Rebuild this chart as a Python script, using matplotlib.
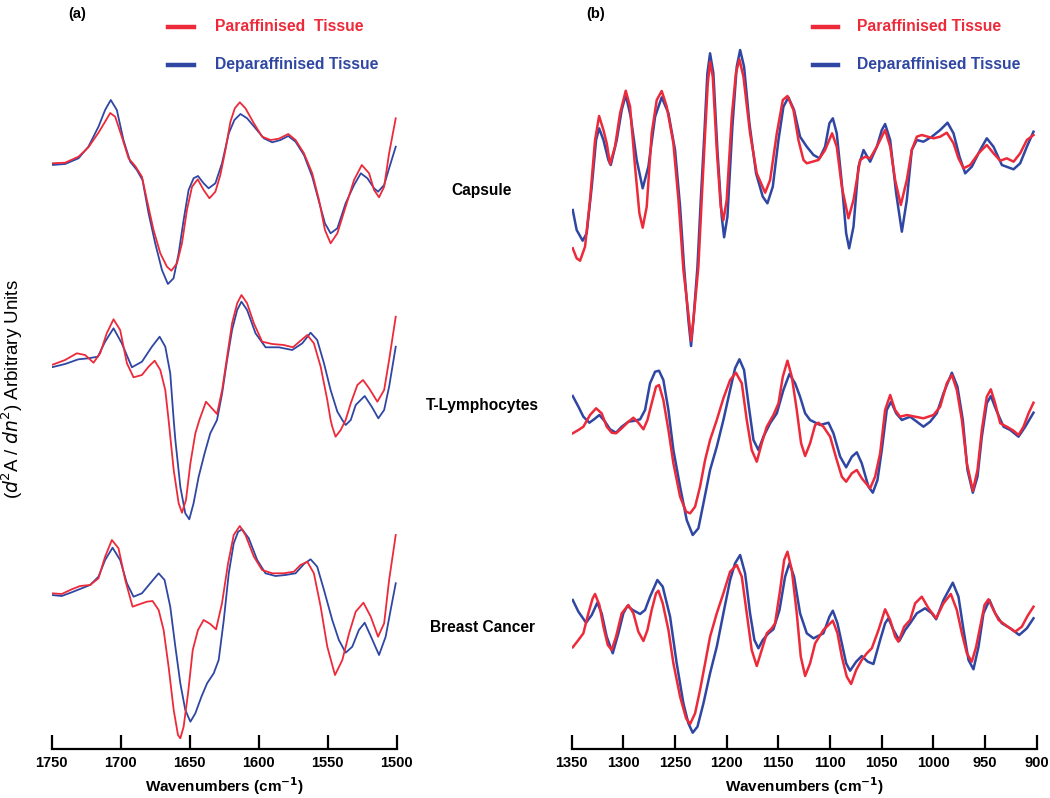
import matplotlib
matplotlib.use("Agg")
import matplotlib.pyplot as plt
from matplotlib.lines import Line2D

plt.rcParams["font.family"] = ["Liberation Sans", "DejaVu Sans"]

RED = "#EC2A3A"
BLUE = "#2F47A2"

# vertical offsets of the three stacked spectra (arbitrary units)
OFFSET = {"Capsule": 584, "T-Lymphocytes": 379, "Breast Cancer": 154}

# ---------------------------------------------------------------- panel (a) 1750-1500
cap_a_red_wn = [1750, 1740.3, 1730.6, 1723.4, 1716.1, 1711.3, 1707.6, 1704, 1699.2, 1694.3, 1689.5,
                1684.6, 1681, 1676.2, 1671.3, 1666.5, 1663.3, 1659.2, 1655.6, 1652, 1648.3, 1644.2,
                1639.9, 1635.7, 1631.4, 1627.8, 1624.1, 1620.5, 1617.3, 1613.7, 1609.6, 1603.5,
                1597.5, 1591.4, 1585.4, 1578.6, 1573.3, 1567.2, 1561.2, 1556.3, 1552, 1547.9, 1543,
                1537, 1530.9, 1525.3, 1520, 1516.4, 1512.8, 1509.1, 1505.5, 1500.7]
cap_a_red = [1.7, 2.3, 8.3, 17.7, 32.3, 43.3, 52, 48.3, 28.3, 6.7, -1,
             -11.7, -35, -65, -88.3, -101.7, -105.7, -98.3, -78.3, -45, -21.7, -14.3,
             -25, -33.3, -26.7, -10, 15, 43.3, 56.7, 62.7, 56.7, 41.7,
             28.3, 25, 26.3, 31, 25, 11.7, -8.3, -35, -65, -78.3, -68.3,
             -41.7, -15, 0, -8.3, -25, -32.3, -21.7, 11.7, 46.7]
cap_a_blue_wn = [1750, 1740.3, 1730.6, 1723.4, 1716.1, 1711.3, 1707.2, 1702.8, 1698, 1693.1, 1688.3,
                 1684.2, 1679.8, 1675, 1670.1, 1665.8, 1661.7, 1658, 1654.4, 1650.8, 1647.2, 1644,
                 1639.9, 1636.3, 1631.4, 1626.6, 1621.7, 1617.6, 1613.2, 1608.4, 1602.3, 1596.3,
                 1590.2, 1584.2, 1578.6, 1573.3, 1567.2, 1561.2, 1556.3, 1552, 1547.9, 1543, 1537,
                 1530.9, 1526, 1521.2, 1516.4, 1513.5, 1509.1, 1505.5, 1500.7]
cap_a_blue = [0, 1, 6.7, 18.3, 38.3, 55, 65, 55, 25, 3.3, -5,
              -15, -48.3, -78.3, -105, -119, -113.3, -88.3, -55, -25, -13.3, -11,
              -18.3, -23.3, -18.3, 1.7, 31.7, 45, 51, 46.7, 36.7, 26.7,
              22.7, 25, 29, 23.3, 10, -11.7, -36.7, -58.3, -68.3, -63.3, -38.3,
              -20, -8.3, -13.3, -23.3, -26.7, -20, -3.3, 18.3]

tl_a_red_wn = [1750, 1740.3, 1731.8, 1725.8, 1719.7, 1714.9, 1710.1, 1705.2, 1700.4, 1695.5, 1690.7,
               1684.6, 1679.8, 1675.4, 1671.3, 1667.7, 1665.3, 1661.6, 1658, 1655.6, 1652.7, 1649.5,
               1645.9, 1643, 1638.2, 1630.2, 1626.5, 1622.9, 1619.3, 1615.6, 1612.5, 1608.4, 1603.5,
               1597.5, 1590.2, 1581.8, 1575.2, 1569.7, 1564.8, 1560, 1555.1, 1550.3, 1547.9, 1546.7,
               1544.3, 1540.6, 1537, 1533.3, 1528.5, 1524.4, 1520, 1514, 1509.1, 1505.5, 1500.7]
tl_a_red = [5, 10, 16.7, 15, 7.3, 16.7, 36.7, 50.7, 40, 6.7, -7.3,
            -5, 3.3, 9.3, 0, -20, -50, -100, -133.3, -142.7, -130, -93.3,
            -63.3, -50, -31.7, -44, -20, 13.3, 46.7, 66.7, 75, 66.7, 46.7,
            28.3, 26, 25, 22.7, 29.3, 35, 26.7, 3.3, -30, -50, -56.7,
            -66.7, -60, -50, -33.3, -15, -10, -18.3, -31.7, -20, 10, 53.3]
tl_a_blue_wn = [1750, 1740.3, 1730.6, 1723.4, 1716.6, 1711.3, 1705.2, 1699.2, 1691.9, 1684.6, 1677.4,
                1671.8, 1667.7, 1664.1, 1661.6, 1660.4, 1656.8, 1653.2, 1650.3, 1647.2, 1643.5, 1639.2,
                1635.1, 1630.2, 1626.5, 1622.9, 1619.3, 1615.6, 1612.5, 1608.4, 1602.3, 1595, 1585.4,
                1575.7, 1568.4, 1562.4, 1557.6, 1552.7, 1547.9, 1543, 1539.4, 1537, 1533.3, 1529.7,
                1523.2, 1518.1, 1513.3, 1509.1, 1505.5, 1500.7]
tl_a_blue = [2.7, 6, 10.7, 11.7, 13.3, 28.3, 41.7, 26.7, 2.7, 8.3, 23.3,
             33.3, 23.3, -3.3, -50, -70, -116.7, -143.3, -149.3, -133.3, -106.7, -83.3,
             -63.3, -50, -23.3, 10, 40, 60, 68.3, 60, 36.7, 22.7, 22.7,
             20, 26.7, 37.3, 30, 6.7, -20, -41.7, -50, -55, -50, -35,
             -26, -36.7, -48.3, -40, -16.7, 23.3]

bc_a_red_wn = [1750, 1742.7, 1735.5, 1729.4, 1722.2, 1716.1, 1711.3, 1706.4, 1701.6, 1696.7, 1691.4,
               1685.9, 1681, 1676.9, 1672.5, 1668.9, 1665.3, 1661.6, 1658.5, 1656.8, 1654.4, 1651.2,
               1647.8, 1644, 1639.9, 1635.1, 1630.9, 1626.6, 1622.2, 1618.1, 1613.7, 1609.6, 1603.5,
               1597.5, 1590.2, 1581.8, 1574.5, 1569.7, 1564.8, 1560, 1555.1, 1550.3, 1544.7, 1539.4,
               1534.5, 1529.7, 1524.1, 1518.8, 1513.5, 1509.1, 1505.5, 1500.7]
bc_a_red = [1.7, 1, 5.7, 9, 10, 16.7, 38.3, 55, 46.7, 15, -11.7,
            -9, -6.7, -6, -15, -35, -71.7, -115, -140, -143.3, -131.7, -98.3,
            -55, -35, -25, -29, -34.3, -8.3, 31.7, 60, 69, 60, 38.3,
            25, 21.7, 21.7, 23.3, 30, 33.3, 21.7, -11.7, -51.7, -80, -65,
            -38.3, -16.7, -7.7, -21.7, -41.7, -28.3, 15, 60]
bc_a_blue_wn = [1750, 1742.7, 1735.5, 1728.2, 1722.2, 1716.1, 1711.3, 1705.9, 1700.4, 1695.5, 1690.7,
                1684.6, 1678.6, 1672.5, 1668.2, 1664.1, 1660.4, 1656.8, 1653.2, 1649.5, 1645.9, 1641.5,
                1637.4, 1632.6, 1629, 1625.3, 1621.7, 1618.1, 1614.9, 1612, 1607.2, 1601.1, 1595.1,
                1587.8, 1580.6, 1573.3, 1567.2, 1562.4, 1557.6, 1552.7, 1546.7, 1541.9, 1537, 1532.2,
                1527.4, 1523.2, 1518.1, 1512.8, 1508, 1504.4, 1500.7]
bc_a_blue = [0, -1, 2.7, 6.7, 10, 18.3, 35, 47.3, 35, 11.7, -1.7,
             1.7, 11.7, 21.7, 15, -11.7, -51.7, -88.3, -115, -126.7, -118.3, -101.7,
             -88.3, -78.3, -65, -25, 21.7, 51.7, 63.3, 65.7, 56.7, 35, 21.7,
             19, 20, 21.7, 31, 35.7, 28.3, 5, -25, -45, -57.7, -51.7,
             -35, -27.7, -43.3, -60, -41.7, -15, 11.7]

# ---------------------------------------------------------------- panel (b) 1350-900
cap_b_red_wn = [1349.0, 1345.2, 1341.9, 1337.1, 1332.3, 1327.4, 1323.5, 1319.3, 1316.1, 1312.9,
                1308.1, 1303.2, 1297.7, 1293.5, 1288.7, 1284.5, 1281.3, 1277.4, 1272.6, 1267.7,
                1262.9, 1258.0, 1251.6, 1246.7, 1241.9, 1236.4, 1234.5, 1232.2, 1227.4, 1224.2,
                1220.9, 1218.3, 1216.1, 1213.5, 1209.6, 1205.8, 1203.2, 1200.0, 1195.1, 1191.1,
                1187.7, 1183.8, 1177.4, 1170.9, 1162.8, 1158.0, 1151.5, 1145.7, 1141.2, 1135.4,
                1130.6, 1125.7, 1122.5, 1111.2, 1104.8, 1098.0, 1093.5, 1088.6, 1082.2, 1077.3,
                1070.9, 1066.0, 1061.2, 1054.7, 1046.7, 1041.8, 1037.0, 1031.5, 1025.7, 1020.9,
                1016.0, 1011.2, 999.9, 993.4, 987.0, 980.5, 975.7, 970.8, 964.4, 956.3,
                948.3, 941.8, 935.3, 928.9, 922.4, 916.0, 909.5, 903.1]
cap_b_red = [-83.3, -93.3, -95.7, -81.7, -35, 25, 49, 35, 21.7, 1,
             18.3, 51.7, 74.3, 58.3, -1.7, -48.3, -62.7, -41.7, 31.7, 65,
             74, 58.3, 21.7, -35, -105, -155, -175.7, -155, -101.7, -35,
             31.7, 81.7, 103.3, 88.3, 15, -41.7, -55, -35, 48.3, 91.7,
             105.7, 88.3, 31.7, -8.3, -27.7, -15, 31.7, 65, 69, 55,
             25, 5, 1.7, 5, 15, 31.7, 18.3, -21.7, -53.3, -35,
             5, 8.3, 6.7, 18.3, 35, 18.3, -15, -40, -15, 15,
             28.3, 30, 26.7, 28.3, 32.3, 21.7, 6.7, -3.3, 0, 11.7,
             20, 11.7, 4.3, 6.7, 3.3, 11.7, 25, 30]
cap_b_blue_wn = [1349.0, 1345.2, 1339.4, 1335.5, 1330.6, 1326.4, 1323.5, 1319.3, 1314.5, 1312.2,
                 1306.4, 1301.6, 1297.7, 1292.9, 1287.1, 1281.3, 1275.8, 1269.3, 1262.9, 1256.4,
                 1250.0, 1245.1, 1241.3, 1237.1, 1234.5, 1232.2, 1228.3, 1225.1, 1221.6, 1218.7,
                 1216.1, 1212.9, 1209.0, 1204.8, 1202.5, 1199.3, 1194.5, 1190.3, 1187.0, 1183.2,
                 1178.0, 1171.6, 1165.1, 1160.6, 1155.4, 1149.9, 1145.1, 1140.3, 1134.8, 1129.0,
                 1122.5, 1116.0, 1110.2, 1104.8, 1100.6, 1097.3, 1093.5, 1088.6, 1084.4, 1081.5,
                 1077.3, 1072.5, 1067.6, 1061.2, 1054.7, 1049.9, 1046.7, 1041.8, 1036.0, 1030.5,
                 1025.7, 1020.9, 1016.0, 1009.6, 1001.5, 993.4, 986.3, 980.5, 974.7, 969.2,
                 962.8, 954.7, 948.3, 941.8, 933.7, 922.4, 916.0, 909.5, 903.1]
cap_b_blue = [-45, -65, -75.7, -68.3, -21.7, 25, 36.7, 25, 5, 0,
              25, 55, 70, 48.3, 5, -23.3, -1.7, 48.3, 67.7, 51.7,
              15, -41.7, -101.7, -155, -181, -155, -101.7, -35, 31.7, 91.7,
              111.7, 91.7, 15, -51.7, -72.3, -51.7, 38.3, 98.3, 115, 98.3,
              41.7, -8.3, -31.7, -38.3, -21.7, 25, 58.3, 67.7, 55, 28.3,
              18.3, 10, 6.7, 18.3, 41.7, 46.7, 31.7, -18.3, -68.3, -83.3,
              -61.7, -1.7, 15, 3.3, 18.3, 35, 41, 25, -28.3, -66.7,
              -35, 15, 25, 23.3, 28.3, 35, 42.3, 31.7, 8.3, -8.3,
              -1.7, 15, 26.7, 18.3, 0, -4.3, 1.7, 18.3, 33.3]

tl_b_red_wn = [1349.0, 1343.5, 1338.7, 1332.3, 1326.4, 1321.0, 1316.1, 1311.3, 1307.1, 1301.6,
               1295.1, 1290.3, 1285.5, 1280.6, 1276.7, 1272.6, 1268.4, 1265.5, 1261.3, 1256.4,
               1251.6, 1245.1, 1239.3, 1235.4, 1230.6, 1225.8, 1220.9, 1216.1, 1209.6, 1203.2,
               1196.7, 1191.1, 1185.4, 1180.6, 1175.8, 1170.9, 1166.1, 1161.2, 1154.8, 1149.9,
               1145.7, 1141.2, 1137.0, 1132.2, 1128.0, 1124.1, 1119.3, 1114.4, 1111.2, 1106.4,
               1099.9, 1093.5, 1088.6, 1084.4, 1078.9, 1074.1, 1069.3, 1061.2, 1056.4, 1051.5,
               1046.7, 1041.8, 1037.0, 1032.2, 1025.7, 1017.6, 1009.6, 999.9, 993.4, 987.0,
               982.1, 977.3, 972.4, 967.6, 961.8, 957.3, 953.1, 948.3, 944.4, 940.2,
               935.3, 928.9, 922.4, 917.6, 912.8, 907.9, 903.1]
tl_b_red = [-63.3, -60, -56.7, -45, -38.3, -43.3, -56.7, -62.7, -63.3, -58.3,
            -51.7, -47.7, -52.7, -59.3, -50, -33.3, -16.7, -15, -30, -60,
            -93.3, -126.7, -141.7, -143.3, -136.7, -116.7, -90, -70, -50, -28.3,
            -10, -2.7, -13.3, -50, -80, -91.7, -73.3, -56.7, -45, -33.3,
            -6.7, 9.3, -6.7, -40, -73.3, -86, -73.3, -55, -52.7, -56.7,
            -66.7, -90, -106.7, -111.7, -103.3, -100, -108.3, -118.3, -106.7, -83.3,
            -40, -25, -40, -46.7, -45, -46.7, -48.3, -45, -36.7, -13.3,
            -5, -20, -50, -93.3, -120.7, -100, -60, -26.7, -19.3, -33.3,
            -53.3, -56.7, -60.7, -65, -56.7, -43.3, -32.7]
tl_b_blue_wn = [1349.0, 1343.5, 1338.7, 1332.9, 1328.4, 1323.2, 1317.7, 1312.9, 1307.1, 1301.6,
                1295.1, 1288.7, 1283.8, 1279.0, 1274.2, 1269.3, 1265.5, 1261.3, 1256.4, 1251.6,
                1245.1, 1238.7, 1232.9, 1227.4, 1222.5, 1216.1, 1209.6, 1203.2, 1196.7, 1191.9,
                1187.7, 1183.2, 1179.0, 1174.1, 1169.3, 1164.5, 1158.0, 1151.5, 1145.1, 1139.3,
                1133.8, 1129.0, 1124.1, 1119.3, 1109.6, 1101.5, 1096.7, 1090.2, 1084.4, 1078.9,
                1074.1, 1069.3, 1062.8, 1058.6, 1054.1, 1049.9, 1045.1, 1040.9, 1036.0, 1030.5,
                1022.5, 1016.0, 1009.6, 1003.1, 996.7, 990.2, 982.1, 976.7, 971.5, 967.0,
                961.8, 957.3, 953.1, 948.3, 944.4, 939.2, 932.1, 925.6, 917.6, 911.1,
                903.1]
tl_b_blue = [-26, -36.7, -46.7, -52.7, -49.3, -45, -51.7, -59.3, -62.7, -56.7,
             -51.7, -50.7, -49.3, -40, -13.3, -1.7, -0.7, -10, -40, -80,
             -116.7, -150, -165, -158.3, -133.3, -100, -76.7, -50, -20, 1.7,
             10.7, 0, -33.3, -70, -80, -66.7, -53.3, -43.3, -20, -4,
             -13.3, -26.7, -43.3, -50, -55, -52.7, -63.3, -86.7, -97.3, -86.7,
             -82.3, -93.3, -116.7, -122.7, -110, -80, -40, -31.7, -43.3, -50,
             -46.7, -51.7, -56.7, -51.7, -43.3, -23.3, -2.7, -16.7, -50, -100,
             -122.7, -106.7, -66.7, -33.3, -26, -40, -56.7, -60, -66.7, -56.7,
             -42.7]

bc_b_red_wn = [1349.0, 1343.5, 1338.7, 1333.9, 1329.7, 1327.4, 1323.2, 1319.3, 1315.1, 1311.3,
               1307.1, 1301.6, 1295.1, 1290.3, 1285.5, 1280.6, 1276.7, 1272.6, 1268.4, 1266.1,
               1261.9, 1256.4, 1251.6, 1245.1, 1239.3, 1235.4, 1230.6, 1225.8, 1220.9, 1216.1,
               1209.6, 1203.2, 1196.7, 1190.3, 1185.4, 1180.6, 1175.8, 1170.9, 1166.1, 1161.2,
               1156.4, 1153.2, 1148.3, 1144.4, 1141.2, 1137.0, 1132.2, 1128.3, 1124.1, 1119.3,
               1114.4, 1106.4, 1101.5, 1097.3, 1092.8, 1088.6, 1083.8, 1079.6, 1074.7, 1069.3,
               1064.4, 1059.6, 1053.1, 1046.7, 1041.8, 1037.0, 1033.8, 1028.3, 1022.5, 1017.6,
               1011.2, 1004.7, 997.3, 990.2, 983.1, 977.3, 972.4, 967.6, 962.8, 958.6,
               954.7, 950.5, 946.7, 941.8, 936.9, 928.9, 920.8, 914.4, 908.9, 903.1]
bc_b_red = [-52.3, -45, -38.3, -18.3, -3.3, 1, -10, -31.7, -50, -55,
            -41.7, -18.3, -10, -18.3, -36.7, -46, -35, -15, 1.7, 4.3,
            -8.3, -35, -68.3, -101.7, -123.3, -129, -118.3, -95, -68.3, -41.7,
            -18.3, 1.7, 23.3, 30, 18.3, -18.3, -55, -71, -55, -38.3,
            -33.3, -28.3, 5, 35, 43.3, 25, -18.3, -61.7, -81, -68.3,
            -48.3, -35, -30, -25.7, -38.3, -61.7, -81.7, -89, -75, -65,
            -58.3, -53.3, -35, -14.3, -25, -41.7, -46.7, -31.7, -25, -8.3,
            -1.7, -13.3, -23.3, -8.3, 1, -15, -38.3, -58.3, -66.7, -51.7,
            -31.7, -10, -4.3, -15, -25, -31, -36.7, -31.7, -21, -11.7]
bc_b_blue_wn = [1349.0, 1343.5, 1336.1, 1330.6, 1325.2, 1321.0, 1316.1, 1310.3, 1304.8, 1300.0,
                1296.1, 1290.9, 1283.8, 1279.0, 1274.2, 1267.1, 1261.9, 1254.8, 1248.4, 1241.9,
                1237.1, 1232.9, 1228.3, 1222.5, 1216.1, 1209.6, 1203.2, 1196.7, 1191.9, 1187.0,
                1182.2, 1177.4, 1173.2, 1169.3, 1165.1, 1159.6, 1154.8, 1148.9, 1143.5, 1139.3,
                1134.8, 1129.0, 1122.5, 1116.0, 1106.4, 1100.6, 1097.3, 1092.8, 1088.6, 1084.4,
                1080.6, 1074.7, 1069.3, 1063.5, 1058.0, 1051.5, 1046.7, 1043.5, 1038.6, 1032.8,
                1027.3, 1022.5, 1016.0, 1008.0, 1001.5, 997.3, 990.2, 981.2, 975.7, 970.8,
                966.0, 961.2, 956.3, 951.5, 945.7, 940.2, 933.7, 925.6, 916.9, 909.5,
                903.1]
bc_b_blue = [-5, -16.7, -27.7, -20, -7.7, -18.3, -41.7, -58.3, -38.3, -18.3,
             -11, -15, -19, -15, -1.7, 15, 8.3, -21.7, -68.3, -108.3,
             -128.3, -137.7, -131.7, -108.3, -78.3, -51.7, -18.3, 15, 31.7, 40,
             21.7, -18.3, -45, -53.3, -45, -38.3, -34.3, -15, 18.3, 31.7,
             18.3, -18.3, -38.3, -43.3, -38.3, -21.7, -15.7, -28.3, -48.3, -68.3,
             -75.7, -66.7, -61, -66.7, -69, -45, -28.3, -23.3, -35, -45.7,
             -35, -28.3, -18.3, -13.3, -18.3, -24.3, -5, 12.3, -1.7, -35,
             -65, -74.3, -51.7, -18.3, -5, -18.3, -28.3, -33.3, -40, -33.3,
             -23.3]

PANELS = {
    "a": {"xlim": (1750, 1500), "ticks": [1750, 1700, 1650, 1600, 1550, 1500],
          "Capsule": (cap_a_red_wn, cap_a_red, cap_a_blue_wn, cap_a_blue),
          "T-Lymphocytes": (tl_a_red_wn, tl_a_red, tl_a_blue_wn, tl_a_blue),
          "Breast Cancer": (bc_a_red_wn, bc_a_red, bc_a_blue_wn, bc_a_blue)},
    "b": {"xlim": (1350, 900), "ticks": list(range(1350, 899, -50)),
          "Capsule": (cap_b_red_wn, cap_b_red, cap_b_blue_wn, cap_b_blue),
          "T-Lymphocytes": (tl_b_red_wn, tl_b_red, tl_b_blue_wn, tl_b_blue),
          "Breast Cancer": (bc_b_red_wn, bc_b_red, bc_b_blue_wn, bc_b_blue)},
}
LEGEND_A = ["Paraffinised  Tissue", "Deparaffinised Tissue"]
LEGEND_B = ["Paraffinised Tissue", "Deparaffinised Tissue"]

W, H = 1050, 798
fig = plt.figure(figsize=(W / 100, H / 100), dpi=100, facecolor="white")


def fx(px):
    return px / W


def fy(py):
    return 1 - py / H


def panel(key, left, right, lw):
    p = PANELS[key]
    ax = fig.add_axes([fx(left), fy(749), fx(right - left), 749 / H])
    for name in ("Capsule", "T-Lymphocytes", "Breast Cancer"):
        rwn, rv, bwn, bv = p[name]
        off = OFFSET[name]
        ax.plot(bwn, [off + v for v in bv], color=BLUE, lw=lw, solid_joinstyle="round")
        ax.plot(rwn, [off + v for v in rv], color=RED, lw=lw, solid_joinstyle="round")
    ax.set_xlim(*p["xlim"])
    ax.set_ylim(0, 749)
    ax.set_xticks(p["ticks"])
    ax.set_yticks([])
    for s in ("top", "right", "left"):
        ax.spines[s].set_visible(False)
    ax.spines["bottom"].set_linewidth(1.6)
    ax.tick_params(axis="x", direction="in", length=10, width=1.6, pad=5, labelsize=10.5)
    for t in ax.get_xticklabels():
        t.set_fontweight("bold")
    ax.set_xlabel("Wavenumbers (cm$^{\\mathbf{-1}}$)", fontsize=11, fontweight="bold", labelpad=4)
    ax.patch.set_alpha(0)
    return ax


panel("a", 51.7, 396.7, 1.3)
panel("b", 571.7, 1036.7, 1.8)


def legend(x0, x1, xt, labels):
    for y, col, lab in ((26.5, RED, labels[0]), (65, BLUE, labels[1])):
        fig.add_artist(Line2D([fx(x0), fx(x1)], [fy(y), fy(y)], color=col, lw=3.2))
        fig.text(fx(xt), fy(y), lab, color=col, fontsize=11.3, fontweight="bold", va="center")


legend(167.7, 194, 214.7, LEGEND_A)
legend(812.7, 838.3, 856.7, LEGEND_B)

fig.text(fx(77), fy(14), "(a)", fontsize=10.5, fontweight="bold", ha="center", va="center")
fig.text(fx(596), fy(14), "(b)", fontsize=10.5, fontweight="bold", ha="center", va="center")

for name, y in (("Capsule", 190), ("T-Lymphocytes", 405), ("Breast Cancer", 628)):
    fig.text(fx(482), fy(y), name, fontsize=11.2, fontweight="bold", ha="center", va="center")

fig.text(fx(12.5), fy(389), "($\\it{d}$$^{2}$A / $\\it{dn}$$^{2}$) Arbitrary Units",
         fontsize=13.5, rotation=90, ha="center", va="center")

fig.savefig("out.png", dpi=100, facecolor="white")
